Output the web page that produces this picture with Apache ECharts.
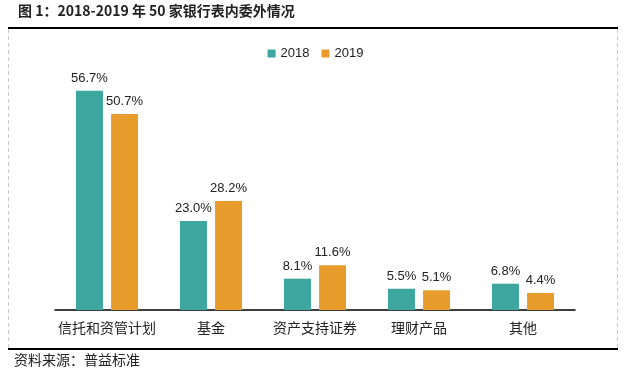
<!DOCTYPE html>
<html><head><meta charset="utf-8">
<script src="https://cdn.jsdelivr.net/npm/echarts@6/dist/echarts.min.js"></script>
<style>html,body{margin:0;padding:0;background:#fff}#c{width:631px;height:374px}</style>
</head><body><div id="c"></div>
<script>
const categories = ['信托和资管计划', '基金', '资产支持证券', '理财产品', '其他'];
const values2018 = [56.7, 23.0, 8.1, 5.5, 6.8];
const values2019 = [50.7, 28.2, 11.6, 5.1, 4.4];
const seriesNames = ['2018', '2019'];
const titleText = '图 1：2018-2019 年 50 家银行表内委外情况';
const sourceText = '资料来源：普益标准';

const chart = echarts.init(document.getElementById('c'), null, {renderer: 'canvas'});
const lbl = {show: true, position: 'top', distance: 6, color: '#222', fontSize: 13,
  fontFamily: 'Liberation Sans, Arial, sans-serif', formatter: p => p.value.toFixed(1) + '%'};
chart.setOption({
  animation: false,
  backgroundColor: '#fff',
  graphic: [
    {type: 'text', left: 18, top: 4, style: {text: titleText, font: 'bold 14px "Noto Sans CJK SC", sans-serif', fill: '#222'}},
    {type: 'line', shape: {x1: 8, y1: 28, x2: 618, y2: 28}, style: {stroke: '#000', lineWidth: 2}},
    {type: 'line', shape: {x1: 8.5, y1: 29, x2: 8.5, y2: 348}, style: {stroke: '#c8c8c8', lineWidth: 1, lineDash: [4, 3]}},
    {type: 'line', shape: {x1: 617.5, y1: 29, x2: 617.5, y2: 348}, style: {stroke: '#c8c8c8', lineWidth: 1, lineDash: [4, 3]}},
    {type: 'line', shape: {x1: 8, y1: 349, x2: 618, y2: 349}, style: {stroke: '#000', lineWidth: 2}},
    {type: 'text', left: 14, top: 353, style: {text: sourceText, font: '14px "Noto Sans CJK SC", serif', fill: '#222'}}
  ],
  legend: {
    data: seriesNames, top: 42, left: 'center', itemWidth: 8, itemHeight: 8, itemGap: 12,
    icon: 'rect', textStyle: {fontSize: 13, color: '#222', fontFamily: 'Liberation Sans, Arial, sans-serif'}
  },
  grid: {left: 55, right: 56, top: 78, bottom: 64, containLabel: false},
  xAxis: {
    type: 'category', data: categories,
    axisLine: {lineStyle: {color: '#000', width: 1.5}},
    axisTick: {show: false},
    axisLabel: {interval: 0, color: '#222', fontSize: 14, margin: 11, fontFamily: '"Noto Sans CJK SC", serif'}
  },
  yAxis: {type: 'value', min: 0, max: 60, show: false, splitLine: {show: false}},
  series: [
    {name: seriesNames[0], type: 'bar', data: values2018, barWidth: 27, barGap: '30%',
     itemStyle: {color: '#3ca69f'}, label: lbl},
    {name: seriesNames[1], type: 'bar', data: values2019, barWidth: 27,
     itemStyle: {color: '#e89c2c'}, label: lbl}
  ]
});
</script></body></html>
